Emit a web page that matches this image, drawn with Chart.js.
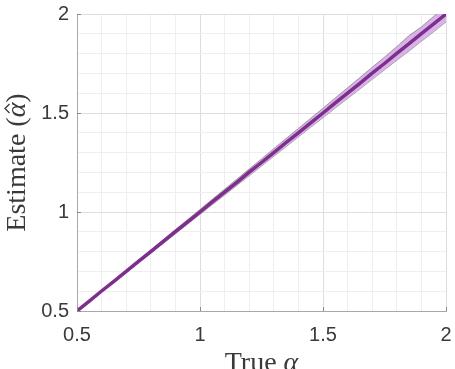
<!DOCTYPE html>
<html>
<head>
<meta charset="utf-8">
<script src="https://cdn.jsdelivr.net/npm/chart.js@4.4.1/dist/chart.umd.min.js"></script>
<style>
html,body{margin:0;padding:0;background:#fff;}
#wrap{width:455px;height:369px;position:relative;}
</style>
</head>
<body>
<div id="wrap"><canvas id="c" width="455" height="369"></canvas></div>
<script>
// ---- data ----
const trueAlpha = [0.50,0.55,0.60,0.65,0.70,0.75,0.80,0.85,0.90,0.95,1.00,1.05,1.10,1.15,1.20,1.25,1.30,1.35,1.40,1.45,1.50,1.55,1.60,1.65,1.70,1.75,1.80,1.85,1.90,1.95,2.00];
const meanEstimate = [0.500,0.550,0.601,0.650,0.700,0.751,0.800,0.850,0.901,0.950,1.000,1.051,1.100,1.150,1.201,1.250,1.300,1.351,1.400,1.450,1.500,1.551,1.600,1.650,1.701,1.750,1.801,1.850,1.901,1.950,2.000];
const upperEstimate = [0.502,0.553,0.604,0.656,0.707,0.758,0.809,0.860,0.911,0.962,1.013,1.064,1.115,1.166,1.217,1.268,1.320,1.371,1.422,1.473,1.524,1.576,1.627,1.679,1.731,1.782,1.835,1.891,1.935,1.988,2.040];
const lowerEstimate = [0.498,0.547,0.596,0.645,0.694,0.743,0.792,0.841,0.890,0.939,0.988,1.037,1.085,1.134,1.183,1.232,1.281,1.330,1.379,1.428,1.476,1.525,1.573,1.621,1.670,1.718,1.766,1.813,1.862,1.910,1.960];
const xTickLabels = ['0.5','1','1.5','2'];
const yTickLabels = ['0.5','1','1.5','2'];
// [text, style, hat-above]
const xTitleParts = [['True ', 'normal', false], ['\u03B1', 'italic', false]];
const yTitleParts = [['Estimate (', 'normal', false], ['\u03B1', 'italic', true], [')', 'normal', false]];

const pts = (ys) => trueAlpha.map((x, i) => ({x: x, y: ys[i]}));

const isMajor = v => Math.abs(v * 2 - Math.round(v * 2)) < 1e-6;
const labelFor = (v, labels) => {
  if (!isMajor(v)) return '';
  const s = String(Math.round(v * 10) / 10);
  return labels.includes(s) ? s : '';
};

const TEXT = '#3a3a3a';
const serif = '"Liberation Serif", "Times New Roman", serif';

const titles = {
  id: 'titles',
  afterDraw(chart) {
    const ctx = chart.ctx, a = chart.chartArea;
    const size = 28;
    function drawParts(parts, cx, cy, rot) {
      ctx.save();
      ctx.translate(cx, cy);
      ctx.rotate(rot);
      ctx.fillStyle = TEXT;
      ctx.strokeStyle = TEXT;
      ctx.textBaseline = 'alphabetic';
      ctx.textAlign = 'left';
      let total = 0;
      parts.forEach(p => { ctx.font = p[1] + ' ' + size + 'px ' + serif; total += ctx.measureText(p[0]).width; });
      let x = -total / 2;
      parts.forEach(p => {
        ctx.font = p[1] + ' ' + size + 'px ' + serif;
        const w = ctx.measureText(p[0]).width;
        ctx.fillText(p[0], x, 0);
        if (p[2]) {
          const hx = x + w / 2 + 1.5;
          ctx.lineWidth = 1.3;
          ctx.beginPath();
          ctx.moveTo(hx - 4.5, -15.5);
          ctx.lineTo(hx, -20);
          ctx.lineTo(hx + 4.5, -15.5);
          ctx.stroke();
        }
        x += w;
      });
      ctx.restore();
    }
    drawParts(xTitleParts, (a.left + a.right) / 2, 371, 0);
    drawParts(yTitleParts, 25, (a.top + a.bottom) / 2, -Math.PI / 2);
    // inward tick marks (major)
    ctx.save();
    ctx.strokeStyle = '#8a8a8a';
    ctx.lineWidth = 1;
    const xs = chart.scales.x, ys = chart.scales.y;
    xs.ticks.forEach(t => { if (isMajor(t.value)) { const px = Math.round(xs.getPixelForValue(t.value)) + 0.5; ctx.beginPath(); ctx.moveTo(px, a.bottom); ctx.lineTo(px, a.bottom - 4); ctx.stroke(); } });
    ys.ticks.forEach(t => { if (isMajor(t.value)) { const py = Math.round(ys.getPixelForValue(t.value)) + 0.5; ctx.beginPath(); ctx.moveTo(a.left, py); ctx.lineTo(a.left + 4, py); ctx.stroke(); } });
    ctx.restore();
  }
};

new Chart(document.getElementById('c'), {
  type: 'line',
  data: {
    datasets: [
      { label: 'mean', data: pts(meanEstimate), borderColor: '#7E2F8E', borderWidth: 3.5, pointRadius: 0, fill: false, tension: 0, order: 0 },
      { label: 'upper', data: pts(upperEstimate), borderColor: 'rgba(130,130,130,0.75)', borderWidth: 1, pointRadius: 0, fill: '+1', backgroundColor: 'rgba(205,160,225,0.8)', tension: 0, order: 1 },
      { label: 'lower', data: pts(lowerEstimate), borderColor: 'rgba(130,130,130,0.75)', borderWidth: 1, pointRadius: 0, fill: false, tension: 0, order: 2 }
    ]
  },
  options: {
    responsive: false,
    animation: false,
    devicePixelRatio: 1,
    layout: { padding: { top: 14, right: 9, left: 0, bottom: 0 } },
    plugins: { legend: { display: false }, tooltip: { enabled: false } },
    scales: {
      x: {
        type: 'linear', min: 0.5, max: 2,
        ticks: { stepSize: 0.1, autoSkip: false, maxRotation: 0, padding: 12, color: TEXT,
          font: { family: '"Liberation Sans", Arial, sans-serif', size: 20 },
          callback: v => labelFor(v, xTickLabels) },
        grid: { drawTicks: false, color: c => isMajor(c.tick.value) ? '#dedede' : '#efefef', lineWidth: 1 },
        border: { display: true, color: '#a8a8a8', width: 1 },
        afterFit: s => { s.height = 58; s.paddingLeft = 0; s.paddingRight = 0; }
      },
      y: {
        type: 'linear', min: 0.5, max: 2,
        ticks: { stepSize: 0.1, autoSkip: false, padding: 8, color: TEXT,
          font: { family: '"Liberation Sans", Arial, sans-serif', size: 20 },
          callback: v => labelFor(v, yTickLabels) },
        grid: { drawTicks: false, color: c => isMajor(c.tick.value) ? '#dedede' : '#efefef', lineWidth: 1 },
        border: { display: true, color: '#a8a8a8', width: 1 },
        afterFit: s => { s.width = 77; s.paddingTop = 0; s.paddingBottom = 0; }
      }
    }
  },
  plugins: [titles]
});
</script>
</body>
</html>
